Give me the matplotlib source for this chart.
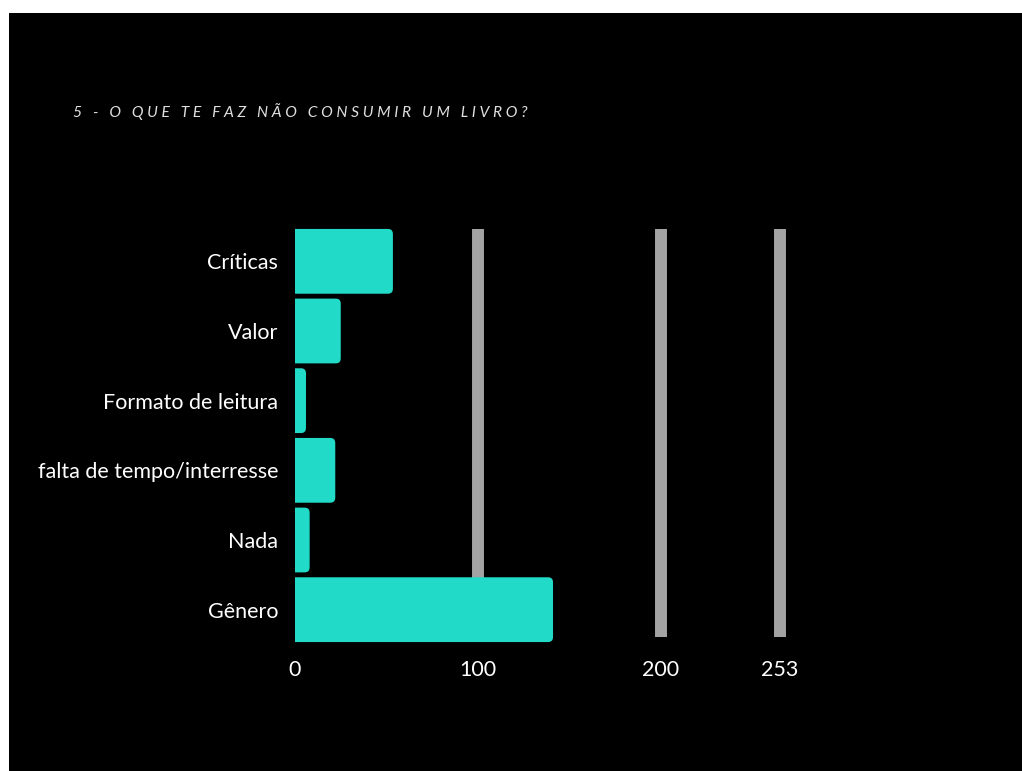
#!/usr/bin/env python

import matplotlib.pyplot as plt
from matplotlib.patches import FancyBboxPatch, Rectangle

# data
CATEGORIES = ["Críticas", "Valor", "Formato de leitura",
              "falta de tempo/interresse", "Nada", "Gênero"]
VALUES = [53.5, 25, 6, 22, 8, 141]
GRID_POS = [100, 200, 265]
TICK_POS = [0, 100, 200, 265]
TICK_LABELS = ["0", "100", "200", "253"]
TITLE = "5 - O QUE TE FAZ NÃO CONSUMIR UM LIVRO?"

BAR_COLOR = "#21dbc8"
GRID_COLOR = "#a3a3a3"
FONT = ["Lato", "DejaVu Sans"]


def spaced(text):
    # fake letter spacing: a space between letters, wider gap between words
    return "   ".join(" ".join(w) for w in text.split(" "))


def main():
    W, H = 1022, 771
    fig = plt.figure(figsize=(W / 100, H / 100), dpi=100)
    fig.patch.set_facecolor("white")
    fig.patches.append(Rectangle((9 / W, 0), 1 - 9 / W, 1 - 13 / H,
                                 transform=fig.transFigure,
                                 facecolor="black", edgecolor="none", zorder=-5))

    fig.text(73 / W, 1 - 112 / H, spaced(TITLE), color="#e0e0e0",
             fontsize=11.25, style="italic", family=FONT, va="center", ha="left")

    ax = fig.add_axes([295 / W, 1 - 644.5 / H, 549 / W, 418 / H])
    ax.set_facecolor("black")
    ax.set_xlim(0, 300)
    ax.set_ylim(len(CATEGORIES) - 0.5, -0.5)

    for g in GRID_POS:
        ax.axvline(g, ymin=0.018, ymax=0.994, color=GRID_COLOR, lw=8.6,
                   zorder=1, solid_capstyle="butt")

    bars = ax.barh(range(len(CATEGORIES)), VALUES, height=0.93,
                   color=BAR_COLOR, zorder=2)
    # swap the plain bars for rounded ones with the same extent
    for b in bars:
        x, y = b.get_x(), b.get_y()
        w, h = b.get_width(), b.get_height()
        b.set_visible(False)
        ax.add_patch(FancyBboxPatch((x - 4, y), w + 4, h,
                                    boxstyle="round,pad=0,rounding_size=2.7",
                                    mutation_aspect=0.0267,
                                    facecolor=BAR_COLOR, edgecolor="none",
                                    zorder=2))

    ax.set_yticks(range(len(CATEGORIES)))
    ax.set_yticklabels(CATEGORIES, family=FONT, fontsize=15.5, color="white")
    ax.set_xticks(TICK_POS)
    ax.set_xticklabels(TICK_LABELS, family=FONT, fontsize=15.5, color="white")
    ax.tick_params(axis="y", length=0, pad=12)
    ax.tick_params(axis="x", length=0, pad=11)
    for s in ax.spines.values():
        s.set_visible(False)

    fig.savefig("out.png", dpi=100, facecolor=fig.get_facecolor())


if __name__ == "__main__":
    main()
